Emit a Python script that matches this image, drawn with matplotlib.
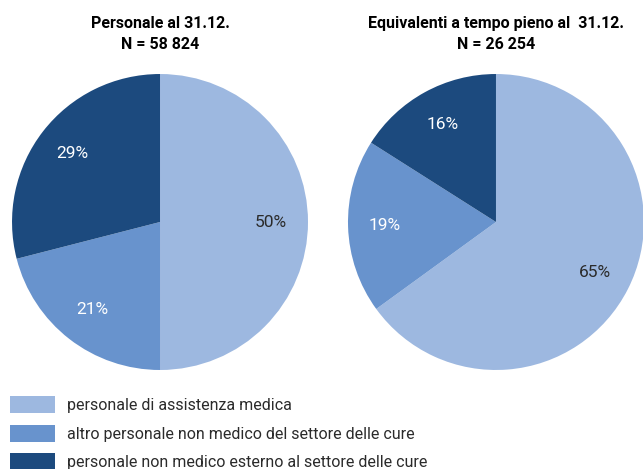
import matplotlib.pyplot as plt
from matplotlib.patches import Patch

plt.rcParams['font.family'] = ['Roboto', 'DejaVu Sans']

categories = ['personale di assistenza medica',
              'altro personale non medico del settore delle cure',
              'personale non medico esterno al settore delle cure']
colors = ['#9db8e0', '#6893cd', '#1c4a7e']
label_colors = ['#2b2b2b', 'white', 'white']

titles = ['Personale al 31.12.\nN = 58 824',
          'Equivalenti a tempo pieno al  31.12.\nN = 26 254']
shares_personale = [50, 21, 29]
shares_etp = [65, 19, 16]

fig = plt.figure(figsize=(6.43, 4.69), dpi=100)

positions = [[0.0187, 0.2111, 0.4603, 0.6311],
             [0.5412, 0.2111, 0.4603, 0.6311]]

for pos, shares, title in zip(positions, [shares_personale, shares_etp], titles):
    ax = fig.add_axes(pos)
    wedges, texts, autotexts = ax.pie(
        shares,
        colors=colors,
        startangle=90,
        counterclock=False,
        autopct='%d%%',
        pctdistance=0.75,
        wedgeprops={'linewidth': 0},
    )
    for t, c in zip(autotexts, label_colors):
        t.set_color(c)
        t.set_fontsize(12.5)
    ax.set_xlim(-1, 1)
    ax.set_ylim(-1, 1)
    ax.set_aspect('equal')
    ax.set_title(title, fontsize=11.5, fontweight='bold', pad=18, linespacing=1.5)

handles = [Patch(facecolor=c, edgecolor='none') for c in colors]
fig.legend(handles, categories, loc='upper left', bbox_to_anchor=(0.0156, 0.155),
           frameon=False, fontsize=11.5, handlelength=2.8, handleheight=1.25,
           labelspacing=0.72, handletextpad=0.75, borderaxespad=0, borderpad=0,
           labelcolor='#2b2b2b')

plt.savefig('out.png', dpi=100)
